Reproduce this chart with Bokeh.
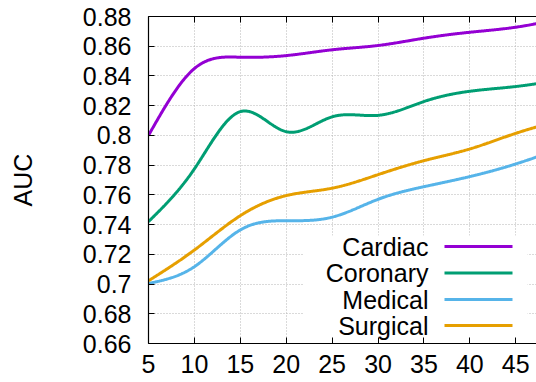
import numpy as np
from bokeh.plotting import figure
from bokeh.models import LinearAxis, FixedTicker, CustomJSTickFormatter, Range1d, Label
from bokeh.embed import file_html
from bokeh.resources import INLINE

# ---------------- data ----------------
epochs = [5, 10, 15, 20, 25, 30, 35, 40, 45, 50]
cardiac = [0.8000, 0.8450, 0.8526, 0.8537, 0.8576, 0.8605, 0.8654, 0.8694, 0.8728, 0.8787]
coronary = [0.7420, 0.7775, 0.8160, 0.8025, 0.8125, 0.8135, 0.8228, 0.8297, 0.8329, 0.8375]
medical = [0.7004, 0.7117, 0.7364, 0.7426, 0.7450, 0.7570, 0.7655, 0.7723, 0.7808, 0.7915]
surgical = [0.7022, 0.7229, 0.7460, 0.7595, 0.7645, 0.7736, 0.7830, 0.7909, 0.8014, 0.8103]

series_names = ["Cardiac", "Coronary", "Medical", "Surgical"]
series_values = [cardiac, coronary, medical, surgical]
series_colors = ["#9400d3", "#009e73", "#56b4e9", "#e69f00"]

x_ticks = [5, 10, 15, 20, 25, 30, 35, 40, 45]
y_ticks = [0.66, 0.68, 0.70, 0.72, 0.74, 0.76, 0.78, 0.80, 0.82, 0.84, 0.86, 0.88]
y_label = "AUC"

FONT = "Liberation Sans"
FS = "25px"

# ---------------- natural cubic spline (gnuplot "smooth csplines") ----------------
def natural_spline(x, y, n=600):
    x = np.asarray(x, float)
    y = np.asarray(y, float)
    k = len(x)
    h = np.diff(x)
    A = np.zeros((k, k))
    b = np.zeros(k)
    A[0, 0] = 1.0
    A[-1, -1] = 1.0
    for i in range(1, k - 1):
        A[i, i - 1] = h[i - 1]
        A[i, i] = 2 * (h[i - 1] + h[i])
        A[i, i + 1] = h[i]
        b[i] = 6 * ((y[i + 1] - y[i]) / h[i] - (y[i] - y[i - 1]) / h[i - 1])
    M = np.linalg.solve(A, b)
    t = np.linspace(x[0], x[-1], n)
    idx = np.clip(np.searchsorted(x, t) - 1, 0, k - 2)
    x0, x1 = x[idx], x[idx + 1]
    y0, y1 = y[idx], y[idx + 1]
    m0, m1 = M[idx], M[idx + 1]
    hh = x1 - x0
    s = (m0 * (x1 - t) ** 3 / (6 * hh) + m1 * (t - x0) ** 3 / (6 * hh)
         + (y0 / hh - m0 * hh / 6) * (x1 - t) + (y1 / hh - m1 * hh / 6) * (t - x0))
    return t, s

# ---------------- figure ----------------
W, H = 536, 382
LEFT, TOP, BOTTOM = 148, 16, 39
X0, X1 = 5, 47.26
Y0, Y1 = 0.66, 0.88

p = figure(width=W, height=H, output_backend="svg", toolbar_location=None,
           x_range=Range1d(X0, X1), y_range=Range1d(Y0, Y1),
           min_border_left=LEFT, min_border_right=0,
           min_border_top=TOP, min_border_bottom=BOTTOM)
p.outline_line_color = None
p.background_fill_color = "white"
p.border_fill_color = "white"

frame_w = W - LEFT
frame_h = H - TOP - BOTTOM

def px_x(px):
    return X0 + (px - LEFT) / frame_w * (X1 - X0)

def px_y(py):
    return Y1 - (py - TOP) / frame_h * (Y1 - Y0)

# grid
p.xgrid.ticker = FixedTicker(ticks=x_ticks)
p.ygrid.ticker = FixedTicker(ticks=y_ticks)
for g in (p.xgrid, p.ygrid):
    g.grid_line_color = "#b4b4b4"
    g.grid_line_dash = "1 2"
    g.grid_line_width = 1

def style_axis(ax):
    ax.axis_line_color = "black"
    ax.axis_line_width = 1.2
    ax.major_tick_in = 6
    ax.major_tick_out = 0
    ax.minor_tick_in = 0
    ax.minor_tick_out = 0
    ax.major_tick_line_color = "black"
    ax.major_tick_line_width = 1
    ax.major_label_text_font = FONT
    ax.major_label_text_font_size = FS
    ax.major_label_text_color = "black"

xa = p.xaxis[0]
style_axis(xa)
xa.ticker = FixedTicker(ticks=x_ticks)
xa.major_label_standoff = 11
xa.major_label_text_line_height = 1.0

ya = p.yaxis[0]
style_axis(ya)
ya.ticker = FixedTicker(ticks=y_ticks)
ya.formatter = CustomJSTickFormatter(code="return (Math.round(tick*100)/100).toString();")
ya.major_label_standoff = 17
ya.axis_label = y_label
ya.axis_label_text_font = FONT
ya.axis_label_text_font_size = FS
ya.axis_label_text_font_style = "normal"
ya.axis_label_text_color = "black"
ya.axis_label_standoff = 43

top = LinearAxis(ticker=FixedTicker(ticks=x_ticks),
                 formatter=CustomJSTickFormatter(code="return '';"))
style_axis(top)
top.major_label_text_font_size = "0px"
top.major_label_standoff = 0
p.add_layout(top, "above")

# curves
for name, vals, col in zip(series_names, series_values, series_colors):
    t, s = natural_spline(epochs, vals)
    p.line(t, s, line_color=col, line_width=3)

# key box (opaque, like gnuplot's key)
p.quad(left=px_x(303), right=px_x(527), top=px_y(235), bottom=px_y(342),
       fill_color="white", line_color=None)

row_y = [246, 272.5, 299, 325]
for name, col, ry in zip(series_names, series_colors, row_y):
    yy = px_y(ry)
    p.add_layout(Label(x=px_x(428), y=yy, text=name, text_align="right",
                       text_baseline="middle", text_font=FONT, text_font_size=FS,
                       text_color="black"))
    p.segment(x0=[px_x(444)], y0=[yy], x1=[px_x(512)], y1=[yy],
              line_color=col, line_width=3)

open("out.html", "w").write(file_html(p, INLINE))
